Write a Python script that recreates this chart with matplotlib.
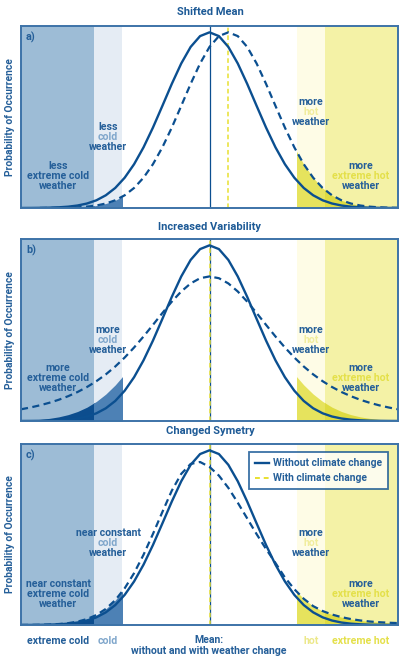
import numpy as np
import matplotlib
matplotlib.use("Agg")
import matplotlib.pyplot as plt
from matplotlib.patches import Rectangle
from matplotlib.lines import Line2D

# ---------------- data ----------------
# x: temperature anomaly in units, mean of the unchanged climate at 0
x = np.linspace(-5, 5, 41)

# probability of occurrence without climate change (same in all panels)
without_cc = [0.0002, 0.0004, 0.0009, 0.0019, 0.0039, 0.0076, 0.0142, 0.0255, 0.0439, 0.0724,
              0.1141, 0.1724, 0.2494, 0.3453, 0.4578, 0.5813, 0.7066, 0.8226, 0.9169, 0.9785,
              1.0000,
              0.9785, 0.9169, 0.8226, 0.7066, 0.5813, 0.4578, 0.3453, 0.2494, 0.1724, 0.1141,
              0.0724, 0.0439, 0.0255, 0.0142, 0.0076, 0.0039, 0.0019, 0.0009, 0.0004, 0.0002]

# a) shifted mean: same curve moved by this amount
mean_shift_a = 0.5

# b) increased variability: drawn dashed curve and shaded tail curve
with_cc_b = [0.0666, 0.0770, 0.0892, 0.1037, 0.1208, 0.1411, 0.1651, 0.1934, 0.2267, 0.2654,
             0.3102, 0.3613, 0.4185, 0.4810, 0.5472, 0.6146, 0.6794, 0.7372, 0.7831, 0.8128,
             0.8230,
             0.8128, 0.7831, 0.7372, 0.6794, 0.6146, 0.5472, 0.4810, 0.4185, 0.3613, 0.3102,
             0.2654, 0.2267, 0.1934, 0.1651, 0.1411, 0.1208, 0.1037, 0.0892, 0.0770, 0.0666]
tail_b = [0.0032, 0.0055, 0.0091, 0.0149, 0.0235, 0.0362, 0.0541, 0.0787, 0.1114, 0.1533,
          0.2053, 0.2672, 0.3383, 0.4167, 0.4992, 0.5815, 0.6590, 0.7263, 0.7785, 0.8116,
          0.8230,
          0.8116, 0.7785, 0.7263, 0.6590, 0.5815, 0.4992, 0.4167, 0.3383, 0.2672, 0.2053,
          0.1533, 0.1114, 0.0787, 0.0541, 0.0362, 0.0235, 0.0149, 0.0091, 0.0055, 0.0032]

# c) changed symmetry
with_cc_c = [0.0003, 0.0006, 0.0013, 0.0028, 0.0055, 0.0106, 0.0194, 0.0340, 0.0573, 0.0923,
             0.1422, 0.2100, 0.2970, 0.4020, 0.5212, 0.6469, 0.7689, 0.8650, 0.9220, 0.9330,
             0.9050,
             0.8550, 0.7850, 0.7000, 0.6100, 0.5200, 0.4350, 0.3550, 0.2720, 0.2050, 0.1500,
             0.1080, 0.0800, 0.0600, 0.0450, 0.0340, 0.0260, 0.0200, 0.0160, 0.0130, 0.0110]

# category bands
zone_names = ["extreme cold", "cold", "hot", "extreme hot"]
zone_edges = [(-5.0, -3.06), (-3.06, -2.32), (2.32, 3.06), (3.06, 5.0)]

titles = ["Shifted Mean", "Increased Variability", "Changed Symetry"]
panel_tags = ["a)", "b)", "c)"]
legend_labels = ["Without climate change", "With climate change"]

# ---------------- styles ----------------
W, H = 399, 661
plt.rcParams['font.family'] = ['Roboto', 'DejaVu Sans']

DARK = "#0b4f90"
TXT = "#255f99"
TITLE = "#1d5a96"
LBLUE_T = "#7fa6cb"
PALEY_T = "#f1ed9c"
YEL_T = "#e4e04a"
zone_bg = ["#9dbcd6", "#e5ecf4", "#fefce6", "#f4f2a6"]
zone_fill = ["#0c4d8e", "#4d81b5", "#e6e35d", "#dedb40"]
YLINE = "#e8e030"
SPINE = "#3d73a8"

LBL = 7.6

fig = plt.figure(figsize=(W / 100, H / 100), dpi=100)

panels_px = [(26, 208), (239, 421), (444, 625)]  # top, bottom in pixels
L, R = 21, 398


def ptext(px, py, s, color, size=LBL, weight='bold', ha='center', **kw):
    fig.text(px / W, 1 - py / H, s, color=color, fontsize=size, fontweight=weight,
             ha=ha, va='center', **kw)


axes = []
for (top, bot) in panels_px:
    ax = fig.add_axes([L / W, 1 - bot / H, (R - L) / W, (bot - top) / H])
    ax.set_xlim(-5, 5)
    ax.set_ylim(0, 1.036)
    ax.set_xticks([])
    ax.set_yticks([])
    for s in ax.spines.values():
        s.set_color(SPINE)
        s.set_linewidth(1.4)
        s.set_zorder(10)
    for (x0, x1), c in zip(zone_edges, zone_bg):
        ax.axvspan(x0, x1, color=c, lw=0, zorder=0)
    axes.append(ax)


def shade_tails(ax, xs, ys):
    for (x0, x1), c in zip(zone_edges, zone_fill):
        poly = ax.fill_between(xs, 0, ys, color=c, lw=0, zorder=1)
        rect = Rectangle((x0, 0), x1 - x0, 2, transform=ax.transData)
        poly.set_clip_path(rect)


solid_kw = dict(color=DARK, lw=1.7, zorder=4, solid_capstyle='butt')
dash_kw = dict(color=DARK, lw=1.6, ls=(0, (3.2, 2.0)), zorder=4)

# a) shifted mean
ax = axes[0]
xa = x + mean_shift_a
shade_tails(ax, xa, without_cc)
ax.plot(x, without_cc, **solid_kw)
ax.plot(xa, without_cc, **dash_kw)
ax.axvline(0, color=DARK, lw=0.9, zorder=3)
ax.axvline(mean_shift_a, color=YLINE, lw=1.1, ls=(0, (3, 2)), zorder=3)

# b) increased variability
ax = axes[1]
shade_tails(ax, x, tail_b)
ax.plot(x, without_cc, **solid_kw)
ax.plot(x, with_cc_b, **dash_kw)
ax.axvline(0, color=DARK, lw=0.9, zorder=3)
ax.axvline(0, color=YLINE, lw=1.1, ls=(0, (3, 2)), zorder=3)

# c) changed symmetry
ax = axes[2]
shade_tails(ax, x, with_cc_c)
ax.plot(x, without_cc, **solid_kw)
ax.plot(x, with_cc_c, **dash_kw)
ax.axvline(0, color=DARK, lw=0.9, zorder=3)
ax.axvline(0, color=YLINE, lw=1.1, ls=(0, (3, 2)), zorder=3)

handles = [Line2D([], [], color=DARK, lw=1.7),
           Line2D([], [], color=YLINE, lw=1.4, ls=(0, (2.5, 2.0)))]
leg = ax.legend(handles, legend_labels, loc='upper right', bbox_to_anchor=(0.973, 0.956),
                borderaxespad=0, frameon=True, fancybox=False, handlelength=1.4,
                handletextpad=0.3, labelspacing=0.5, borderpad=0.6,
                prop={'family': ['Roboto', 'DejaVu Sans'], 'size': 7.4, 'weight': 'bold'})
leg.get_frame().set_edgecolor(DARK)
leg.get_frame().set_linewidth(1.3)
for t in leg.get_texts():
    t.set_color(TXT)
leg.set_zorder(20)

# titles, tags, y labels
title_y = [12, 227, 431]
for (top, bot), t, ty, tag in zip(panels_px, titles, title_y, panel_tags):
    ptext(210, ty, t, TITLE, size=8.0)
    ptext(26, top + 11, tag, TXT, size=7.8, ha='left')
    ptext(10, (top + bot) / 2, "Probability of Occurrence", TXT, size=7.4, rotation=90)

# in-panel labels: (x px, first line y px, [lines], [colors])
labels = [
    # a
    (58, 166, ["less", "extreme cold", "weather"], [TXT, TXT, TXT]),
    (108, 127, ["less", "cold", "weather"], [TXT, LBLUE_T, TXT]),
    (311, 102, ["more", "hot", "weather"], [TXT, PALEY_T, TXT]),
    (361, 166, ["more", "extreme hot", "weather"], [TXT, YEL_T, TXT]),
    # b
    (58, 368, ["more", "extreme cold", "weather"], [TXT, TXT, TXT]),
    (108, 330, ["more", "cold", "weather"], [TXT, LBLUE_T, TXT]),
    (311, 330, ["more", "hot", "weather"], [TXT, PALEY_T, TXT]),
    (361, 368, ["more", "extreme hot", "weather"], [TXT, YEL_T, TXT]),
    # c
    (58, 584, ["near constant", "extreme cold", "weather"], [TXT, TXT, TXT]),
    (108, 533, ["near constant", "cold", "weather"], [TXT, LBLUE_T, TXT]),
    (311, 533, ["more", "hot", "weather"], [TXT, PALEY_T, TXT]),
    (361, 584, ["more", "extreme hot", "weather"], [TXT, YEL_T, TXT]),
]
for px, py, lines, cols in labels:
    for i, (s, c) in enumerate(zip(lines, cols)):
        ptext(px, py + 10.2 * i, s, c)

# bottom category labels
bottom_cols = [TXT, LBLUE_T, "#ece88a", YEL_T]
bottom_x = [58, 108, 311, 361]
for name, bx, c in zip(zone_names, bottom_x, bottom_cols):
    ptext(bx, 641, name, c)
ptext(209, 640, "Mean:", TXT)
ptext(209, 650.5, "without and with weather change", TXT)

fig.savefig("out.png", dpi=100)
